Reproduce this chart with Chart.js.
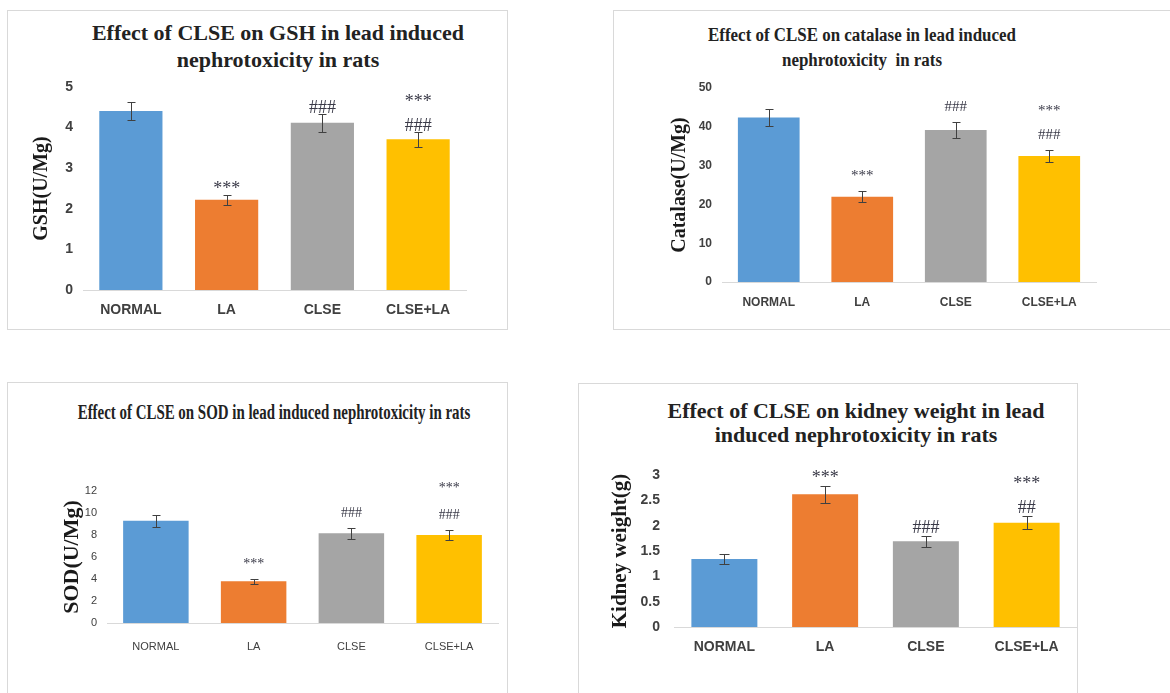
<!DOCTYPE html>
<html>
<head>
<meta charset="utf-8">
<script src="https://cdn.jsdelivr.net/npm/chart.js@4.4.1/dist/chart.umd.min.js"></script>
<style>
  body { margin: 0; width: 1170px; height: 693px; position: relative; overflow: hidden; background: #fff; }
  .frame { position: absolute; box-sizing: border-box; border: 1px solid #d9d9d9; }
  .box { position: absolute; }
  .ttl {
    position: absolute; width: 700px; text-align: center; white-space: nowrap;
    font-family: 'Liberation Serif', 'Times New Roman', serif; font-weight: bold; color: #222;
    transform-origin: center top;
  }
</style>
</head>
<body>

<div class="frame" style="left:7px;top:10px;width:501px;height:320px"></div>
<div class="frame" style="left:613px;top:10px;width:570px;height:320px"></div>
<div class="frame" style="left:7px;top:382px;width:501px;height:330px"></div>
<div class="frame" style="left:578px;top:383px;width:500px;height:330px"></div>

<div class="ttl" style="left:-72px;top:19px;font-size:22px;line-height:27px">Effect of CLSE on GSH in lead induced<br>nephrotoxicity in rats</div>
<div class="ttl" style="left:512px;top:23px;font-size:18px;line-height:25px;transform:scaleX(0.94)">Effect of CLSE on catalase in lead induced<br>nephrotoxicity&nbsp; in rats</div>
<div class="ttl" style="left:-76px;top:400px;font-size:20px;line-height:24px;transform:scaleX(0.746)">Effect of CLSE on SOD in lead induced nephrotoxicity in rats</div>
<div class="ttl" style="left:506px;top:399px;font-size:22px;line-height:24px">Effect of CLSE on kidney weight in lead<br>induced nephrotoxicity in rats</div>

<div class="box" style="left:7px;top:10px;width:501px;height:320px"><canvas id="chartGsh"></canvas></div>
<div class="box" style="left:613px;top:10px;width:557px;height:320px"><canvas id="chartCatalase"></canvas></div>
<div class="box" style="left:7px;top:382px;width:501px;height:311px"><canvas id="chartSod"></canvas></div>
<div class="box" style="left:578px;top:383px;width:500px;height:310px"><canvas id="chartKidney"></canvas></div>

<script>
// groups on every x axis
const groups = ['NORMAL', 'LA', 'CLSE', 'CLSE+LA'];

// GSH (U/Mg)
const gshMean = [4.41, 2.22, 4.12, 3.71];
const gshErr = [0.22, 0.13, 0.22, 0.18];
const gshTicks = [0, 1, 2, 3, 4, 5];
const gshSig = [[], ['***'], ['###'], ['###', '***']];

// catalase (U/Mg)
const catalaseMean = [42.4, 22.0, 39.2, 32.5];
const catalaseErr = [2.3, 1.4, 2.0, 1.5];
const catalaseTicks = [0, 10, 20, 30, 40, 50];
const catalaseSig = [[], ['***'], ['###'], ['###', '***']];

// SOD (U/Mg)
const sodMean = [9.3, 3.8, 8.15, 8.0];
const sodErr = [0.55, 0.22, 0.5, 0.45];
const sodTicks = [0, 2, 4, 6, 8, 10, 12];
const sodSig = [[], ['***'], ['###'], ['###', '***']];

// kidney weight (g)
const kidneyMean = [1.34, 2.62, 1.69, 2.06];
const kidneyErr = [0.1, 0.17, 0.11, 0.13];
const kidneyTicks = [0, 0.5, 1, 1.5, 2, 2.5, 3];
const kidneySig = [[], ['***'], ['###'], ['##', '***']];

const barColors = ['#5b9bd5', '#ed7d31', '#a5a5a5', '#ffc000'];

/* error bars + significance marks, placed with the y scale */
const errorBars = {
  id: 'errorBars',
  afterDatasetsDraw(chart, args, opts) {
    const { ctx } = chart;
    const y = chart.scales.y;
    const meta = chart.getDatasetMeta(0);
    const vals = chart.data.datasets[0].data;
    ctx.save();
    ctx.strokeStyle = '#404040';
    ctx.lineWidth = 1;
    meta.data.forEach((bar, i) => {
      const e = opts.err[i] || 0;
      const top = Math.round(y.getPixelForValue(vals[i] + e)) + 0.5;
      const bot = Math.round(y.getPixelForValue(vals[i] - e)) + 0.5;
      const cx = Math.round(bar.x) + 0.5;
      ctx.beginPath();
      ctx.moveTo(cx, top); ctx.lineTo(cx, bot);
      ctx.moveTo(cx - opts.cap, top); ctx.lineTo(cx + opts.cap, top);
      ctx.moveTo(cx - opts.cap, bot); ctx.lineTo(cx + opts.cap, bot);
      ctx.stroke();

      // stars / hashes above the bar
      ctx.fillStyle = '#3a3a48';
      ctx.font = opts.sigFont;
      ctx.textAlign = 'center';
      ctx.textBaseline = 'alphabetic';
      (opts.sig[i] || []).forEach((s, k) => {
        ctx.fillText(s, bar.x, top - opts.gap - k * opts.step);
      });
    });
    ctx.restore();
  }
};

function makeChart(id, cfg) {
  const el = document.getElementById(id);
  if (!el) return;

  new Chart(el, {
    type: 'bar',
    data: {
      labels: groups,
      datasets: [{
        data: cfg.mean,
        backgroundColor: barColors,
        borderWidth: 0,
        barPercentage: cfg.barPct,
        categoryPercentage: 1
      }]
    },
    options: {
      responsive: true,
      maintainAspectRatio: false,
      animation: false,
      layout: { padding: cfg.pad },
      plugins: {
        legend: { display: false },
        tooltip: { enabled: false },
        errorBars: { err: cfg.err, sig: cfg.sig, gap: cfg.gap, step: cfg.step, cap: cfg.cap, sigFont: cfg.sigFont }
      },
      scales: {
        x: {
          grid: { display: false, drawTicks: false },
          border: { display: true, color: '#d9d9d9', width: 1 },
          ticks: { color: '#404040', padding: cfg.xPad, font: cfg.tickFont, maxRotation: 0, autoSkip: false },
          afterFit: (s) => { s.height = cfg.xHeight; }
        },
        y: {
          min: cfg.ticks[0],
          max: cfg.ticks[cfg.ticks.length - 1],
          grid: { display: false, drawTicks: false },
          border: { display: false },
          afterBuildTicks: (s) => { s.ticks = cfg.ticks.map(v => ({ value: v })); },
          ticks: { color: '#404040', padding: cfg.yPad, font: cfg.tickFont, callback: (v) => String(v) },
          title: {
            display: true,
            text: cfg.yTitle,
            color: '#1a1a1a',
            font: { family: "'Liberation Serif', 'Times New Roman', serif", weight: 'bold', size: cfg.yTitleSize },
            padding: { top: cfg.yTitlePad, bottom: 0 }
          },
          afterFit: (s) => { s.width = cfg.yWidth; }
        }
      }
    },
    plugins: [errorBars]
  });
}

const sans = (size, weight) => ({ family: "'Liberation Sans', Arial, sans-serif", weight, size });

makeChart('chartGsh', {
  mean: gshMean, err: gshErr, sig: gshSig, ticks: gshTicks,
  yTitle: 'GSH(U/Mg)', yTitleSize: 20, yTitlePad: 23,
  pad: { left: 0, right: 42, top: 77, bottom: 0 },
  yWidth: 76, xHeight: 40, xPad: 12, yPad: 10,
  barPct: 0.66, tickFont: sans(14, 'bold'),
  gap: 2, step: 24, cap: 4, sigFont: "18px 'Liberation Serif', serif"
});

makeChart('chartCatalase', {
  mean: catalaseMean, err: catalaseErr, sig: catalaseSig, ticks: catalaseTicks,
  yTitle: 'Catalase(U/Mg)', yTitleSize: 20, yTitlePad: 55,
  pad: { left: 0, right: 74, top: 78, bottom: 0 },
  yWidth: 109, xHeight: 48, xPad: 13, yPad: 10,
  barPct: 0.66, tickFont: sans(12, 'bold'),
  gap: 12, step: 24, cap: 4, sigFont: "15px 'Liberation Serif', serif"
});

makeChart('chartSod', {
  mean: sodMean, err: sodErr, sig: sodSig, ticks: sodTicks,
  yTitle: 'SOD(U/Mg)', yTitleSize: 22, yTitlePad: 52,
  pad: { left: 0, right: 10, top: 109, bottom: 0 },
  yWidth: 100, xHeight: 70, xPad: 17, yPad: 10,
  barPct: 0.67, tickFont: sans(11, 'normal'),
  gap: 12, step: 27, cap: 4, sigFont: "14px 'Liberation Serif', serif"
});

makeChart('chartKidney', {
  mean: kidneyMean, err: kidneyErr, sig: kidneySig, ticks: kidneyTicks,
  yTitle: 'Kidney weight(g)', yTitleSize: 21, yTitlePad: 30,
  pad: { left: 0, right: 1, top: 92, bottom: 0 },
  yWidth: 96, xHeight: 66, xPad: 12, yPad: 14,
  barPct: 0.655, tickFont: sans(14, 'bold'),
  gap: 4, step: 24, cap: 5, sigFont: "18px 'Liberation Serif', serif"
});
</script>
</body>
</html>
